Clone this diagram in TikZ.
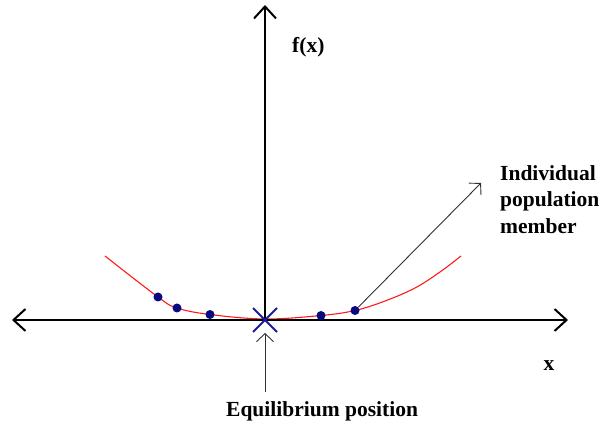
\documentclass[tikz,border=0pt]{standalone}
\usepackage{fontspec}
\setmainfont{Liberation Serif}
\usetikzlibrary{arrows.meta, positioning}
\definecolor{azulx}{HTML}{1C1C9A}
\definecolor{azulpunto}{HTML}{0A0A80}
\definecolor{rojocurva}{HTML}{FF1A1A}
\definecolor{grisflecha}{HTML}{303030}
\tikzset{
  eje/.style={line width=2pt, black, {Straight Barb[length=12pt, width=22pt, line width=2pt]}-{Straight Barb[length=12pt, width=22pt, line width=2pt]}},
  ejey/.style={line width=2pt, black, -{Straight Barb[length=12pt, width=22pt, line width=2pt]}},
  puntero/.style={line width=0.9pt, grisflecha, -{Straight Barb[length=8pt, width=17pt, line width=0.9pt]}},
  punto/.style={circle, fill=azulpunto, inner sep=0pt, minimum size=9pt},
  rotulo/.style={font=\bfseries\fontsize{21.5}{26.5}\selectfont, inner sep=0pt},
  curva/.style={rojocurva, line width=1.1pt}
}
\begin{document}
\begin{tikzpicture}[x=1pt, y=-1pt]
  \useasboundingbox (0,0) rectangle (600,427);
  % ejes
  \coordinate (izq) at (12,320);
  \coordinate (der) at (568,320);
  \coordinate (origen) at (265,320);
  \coordinate (arriba) at (265,5);
  % curva
  \draw [curva] plot [smooth, tension=0.6] coordinates {(105,256) (158,297) (177,308) (210,314.5) (265,319) (321,315.5) (355,310.5) (385,301) (415,288) (440,272) (461,256)};
  \draw [eje] (izq) -- (der);
  \draw [ejey] (origen) -- (arriba);
  % equilibrio
  \draw [azulx, line width=2pt] ([shift={(-12,-12)}]origen) -- ([shift={(12,12)}]origen)
                                ([shift={(-12,12)}]origen) -- ([shift={(12,-12)}]origen);
  % individuos
  \node (p1) [punto] at (158,297) {};
  \node (p2) [punto] at (177,308) {};
  \node (p3) [punto] at (210,314.5) {};
  \node (p4) [punto] at (321,315.5) {};
  \node (p5) [punto] at (355,310.5) {};
  % rotulos
  \node (fx) [rotulo, anchor=base west] at (292,53) {f(x)};
  \node (ex) [rotulo, anchor=base] at (549,371) {x};
  \node (indiv) [rotulo, anchor=north west, align=left] at (500,165) {Individual\\population\\member};
  \node (equil) [rotulo, anchor=base west] at (226,417) {Equilibrium position};
  \coordinate (puntatip) at (481,183);
  \coordinate (eqbase) at (265,392);
  \coordinate (eqtip) at (265,333);
  \draw [puntero] (p5) -- (puntatip);
  \draw [puntero] (eqbase) -- (eqtip);
\end{tikzpicture}
\end{document}
